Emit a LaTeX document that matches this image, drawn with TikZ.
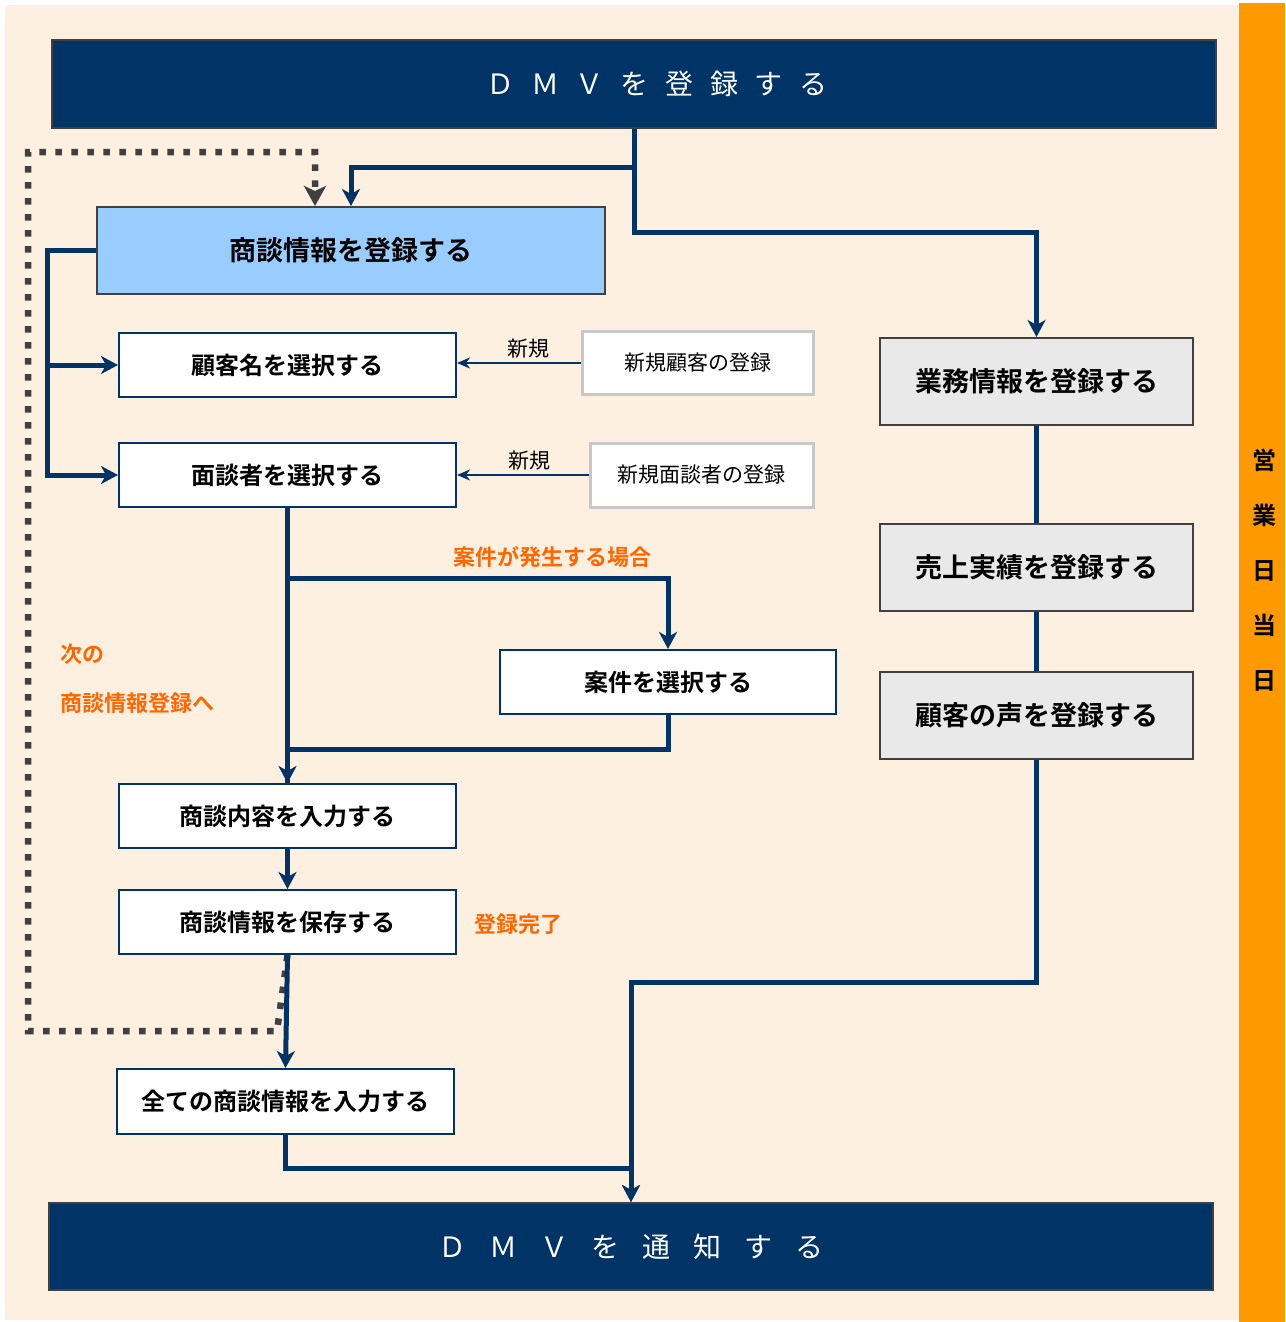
\documentclass[tikz,border=0pt]{standalone}
\usepackage{fontspec}
\setmainfont{Noto Sans CJK JP}[BoldFont={Noto Sans CJK JP Bold}]
\usetikzlibrary{arrows.meta}

\definecolor{dmvnavy}{RGB}{0,51,102}
\definecolor{paper}{RGB}{254,240,224}
\definecolor{sidebar}{RGB}{255,153,0}
\definecolor{talkblue}{RGB}{153,204,255}
\definecolor{workgray}{RGB}{233,233,233}
\definecolor{edgegray}{RGB}{64,64,64}
\definecolor{newgray}{RGB}{200,200,200}
\definecolor{noteorange}{RGB}{255,102,0}

\newcommand\topgap{\hspace{16.7pt}}
\newcommand\botgap{\hspace{23pt}}

\begin{document}
\begin{tikzpicture}[x=1pt, y=-1pt, >=stealth, line width=0.5pt]
\tikzset{
  titlebar/.style={draw=edgegray, line width=2pt, fill=dmvnavy, text=white, minimum width=1164pt, minimum height=87pt, inner sep=0pt, font=\fontsize{28}{32}\selectfont},
  mainbox/.style={draw=edgegray, line width=2pt, fill=talkblue, minimum width=508pt, minimum height=87pt, inner sep=0pt, font=\bfseries\fontsize{27}{30}\selectfont},
  pickbox/.style={draw=dmvnavy, line width=2pt, fill=white, minimum width=337pt, minimum height=64pt, inner sep=0pt, font=\bfseries\fontsize{24}{28}\selectfont},
  newbox/.style={draw=newgray, line width=3pt, fill=white, minimum height=63pt, inner sep=0pt, font=\fontsize{21}{25}\selectfont},
  workbox/.style={draw=edgegray, line width=2pt, fill=workgray, minimum width=313pt, minimum height=87pt, inner sep=0pt, font=\bfseries\fontsize{27}{30}\selectfont},
  flow/.style={draw=dmvnavy, line width=5pt},
  flowto/.style={flow, -{Stealth[length=17pt, width=18pt, inset=5pt]}},
  newflow/.style={draw=dmvnavy, line width=2pt, -{Stealth[length=13pt, width=11pt, inset=4pt]}},
  loopback/.style={draw=edgegray, line width=6.5pt, dash pattern=on 6.5pt off 9.5pt, -{Stealth[length=20pt, width=22pt, inset=5pt]}},
  note/.style={text=noteorange, font=\bfseries\fontsize{22}{26}\selectfont, inner sep=0pt}
}

% background and side band
\useasboundingbox (0,0) rectangle (1285,1322);
\fill[white] (0,0) rectangle (1285,1322);
\fill[paper] (5,5) rectangle (1239,1320);
\fill[sidebar] (1239,3) rectangle (1285,1322);
\node[font=\bfseries\fontsize{24}{55}\selectfont, align=center, inner sep=0pt] (eigyo) at (1264,570) {営\\業\\日\\当\\日};

\node[titlebar] (dmvtop) at (634,84) {\hspace*{46pt}Ｄ\topgap Ｍ\topgap Ｖ\topgap を\topgap 登\topgap 録\topgap す\topgap る};
\node[titlebar] (dmvbot) at (631,1246.5) {Ｄ\botgap Ｍ\botgap Ｖ\botgap を\botgap 通\botgap 知\botgap す\botgap る};

\node[mainbox] (shodan) at (351,250.5) {商談情報を登録する};
\node[pickbox] (kokyaku) at (287.5,365) {顧客名を選択する};
\node[pickbox] (menda) at (287.5,475) {面談者を選択する};
\node[newbox, minimum width=231pt] (shinki1) at (697.5,363) {新規顧客の登録};
\node[newbox, minimum width=223pt, minimum height=64pt] (shinki2) at (701.5,475) {新規面談者の登録};
\node[pickbox, minimum width=336pt] (anken) at (668,682) {案件を選択する};
\node[pickbox] (naiyo) at (287.5,816) {商談内容を入力する};
\node[pickbox] (hozon) at (287.5,922) {商談情報を保存する};
\node[pickbox, minimum height=65pt] (subete) at (285.5,1101.5) {全ての商談情報を入力する};

\node[workbox] (gyomu) at (1036.5,381.5) {業務情報を登録する};
\node[workbox] (uriage) at (1036.5,567.5) {売上実績を登録する};
\node[workbox] (koe) at (1036.5,715.5) {顧客の声を登録する};

\node[note] (hassei) at (552,557) {案件が発生する場合};
\node[note, anchor=west] (tsugi) at (60,654) {次の};
\node[note, anchor=west] (tsugi2) at (60,703) {商談情報登録へ};
\node[note] (kanryo) at (518,924) {登録完了};

% loop back to the next entry
\draw[loopback] (hozon.south) -- (277,1031) -- (28,1031) -- (28,152) -- (315,152) -- ([xshift=-36pt]shodan.north);

% main flow
\draw[flowto] (dmvtop.south) -- ++(0,39) -| (shodan.north);
\draw[flowto] (dmvtop.south) -- ++(0,104) -| (gyomu.north);
\draw[flowto] (shodan.west) -- ++(-49,0) |- (kokyaku.west);
\draw[flowto] (shodan.west) -- ++(-49,0) |- (menda.west);
\draw[newflow] (shinki1.west) -- node[pos=0.42, above, inner sep=4pt, font=\fontsize{21}{25}\selectfont] {新規} (shinki1.west -| kokyaku.east);
\draw[newflow] (shinki2.west) -- node[pos=0.45, above, inner sep=4pt, font=\fontsize{21}{25}\selectfont] {新規} (menda.east);
\draw[flowto] (menda.south) -- (naiyo.north);
\draw[flowto] (menda.south) -- ++(0,70) -| (anken.north);
\draw[flow] (anken.south) -- ++(0,34) -| (naiyo.north);
\draw[flowto] (naiyo.south) -- (hozon.north);
\draw[flowto] (hozon.south) -- (subete.north);
\draw[flowto] (subete.south) -- ++(0,33) -| (dmvbot.north);

\draw[flow] (gyomu.south) -- (uriage.north);
\draw[flow] (uriage.south) -- (koe.north);
\draw[flowto] (koe.south) -- ++(0,222) -| (dmvbot.north);
\end{tikzpicture}
\end{document}
